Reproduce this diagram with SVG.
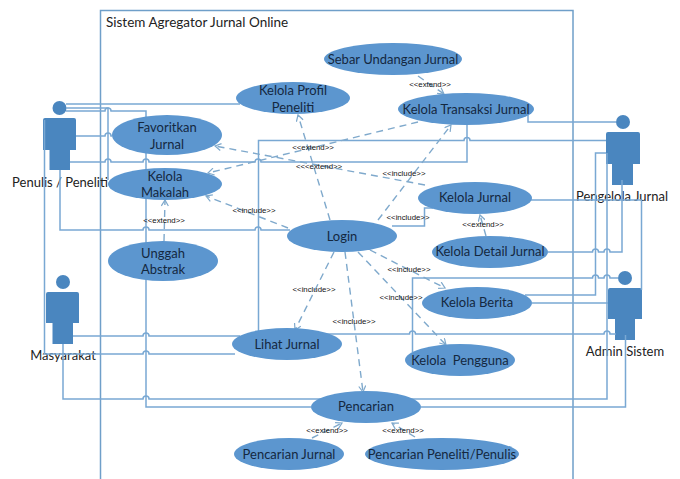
<svg xmlns="http://www.w3.org/2000/svg" width="680" height="479" viewBox="0 0 680 479">
<style>
text{font-family:"Lato","Open Sans","Liberation Sans",sans-serif;text-anchor:middle}
.uc{fill:#5b96cf;filter:url(#glow)}
.ut{font-size:13px;fill:#14283f}
.at{font-size:13px;fill:#222}
.lb{font-size:7.800px;fill:#111;font-family:"Liberation Sans",sans-serif}
.s{fill:none;stroke:#79a8d3;stroke-width:1.5}
.d{fill:none;stroke:#7fa9cc;stroke-width:1.4;stroke-dasharray:7 5;marker-end:url(#op)}
.ac{fill:#4a86bf}
.sys{fill:#fff;stroke:#6f9fc9;stroke-width:1.5}
</style>
<defs>
<filter id="glow" x="-10%" y="-20%" width="120%" height="140%"><feGaussianBlur stdDeviation="0.6"/></filter>
<marker id="op" markerWidth="8" markerHeight="8" refX="7" refY="4" orient="auto" markerUnits="userSpaceOnUse"><path d="M1 0.5L7 4L1 7.5" fill="none" stroke="#7fa9cc" stroke-width="1.2"/></marker>
</defs>
<rect width="680" height="479" fill="#fff"/>
<rect class="sys" x="100.5" y="10.5" width="472.5" height="480"/>
<text x="106" y="27" style="font-size:13.500px;fill:#222;text-anchor:start">Sistem Agregator Jurnal Online</text>
<g id="actor-penulis"><circle class="ac" cx="59.500" cy="108" r="7"/><path class="ac" d="M45 118H74Q76 118 76 120V150H70V170H49.500V150H43V120Q43 118 45 118Z"/><text class="at" x="60" y="187">Penulis / Peneliti</text></g>
<g id="actor-masyarakat"><circle class="ac" cx="63" cy="282" r="7"/><path class="ac" d="M48 292H77Q79 292 79 294V323H73V344H52.500V323H46V294Q46 292 48 292Z"/><text class="at" x="63" y="360">Masyarakat</text></g>
<g id="actor-pengelola"><circle class="ac" cx="623" cy="122" r="7"/><path class="ac" d="M608 132H638Q640 132 640 134V164H633V185H612V164H606V134Q606 132 608 132Z"/><text class="at" x="622" y="201">Pengelola Jurnal</text></g>
<g id="actor-admin"><circle class="ac" cx="625" cy="278" r="7"/><path class="ac" d="M610 288H640Q642 288 642 290V319H635V340H615V319H608V290Q608 288 610 288Z"/><text class="at" x="625" y="356">Admin Sistem</text></g>
<g id="connectors">
<path class="s" d="M66 104H240"/>
<path class="s" d="M66 108H108V180"/>
<path class="s" d="M66 111H105a3 3 0 0 1 6 0H146V407H311"/>
<path class="s" d="M76 136H105a3 3 0 0 1 6 0H112"/>
<path class="s" d="M70 162H105a3 3 0 0 1 6 0H143a3 3 0 0 1 6 0H255a3 3 0 0 1 6 0H467V125"/>
<path class="s" d="M60 170V230H143a3 3 0 0 1 6 0H255a3 3 0 0 1 6 0H290"/>
<path class="s" d="M44.500 120V354H143a3 3 0 0 1 6 0H235"/>
<path class="s" d="M73 336H143a3 3 0 0 1 6 0H240"/>
<path class="s" d="M63 344V399H143a3 3 0 0 1 6 0H607V153"/>
<path class="s" d="M421 407H625.500V335"/>
<path class="s" d="M616 122H528V115"/>
<path class="s" d="M606 140.500H470a3 3 0 0 0-6 0H258.500V332"/>
<path class="s" d="M606 153H595.500V295H525"/>
<path class="s" d="M531 200H641.500V290"/>
<path class="s" d="M548 252H592.500a3 3 0 0 1 6 0H604a3 3 0 0 1 6 0H622V180"/>
<path class="s" d="M618 278H610a3 3 0 0 0-6 0H598.500a3 3 0 0 0-6 0H412.500V352"/>
<path class="s" d="M532 303H608"/>
<path class="s" d="M325 334H409.500a3 3 0 0 1 6 0H604a3 3 0 0 1 6 0H616"/>
<path class="s" d="M392 226H424.500V208L433 208"/>
<path class="d" d="M425 185L215 146"/>
<path class="d" d="M418 122L208 173"/>
<path class="d" d="M288 228L206 196"/>
<path class="d" d="M330 220L298 115"/>
<path class="d" d="M378 220L451 125"/>
<path class="d" d="M370 250L445 288"/>
<path class="d" d="M358 252L446 345"/>
<path class="d" d="M334 252L295 330"/>
<path class="d" d="M345 252L363 392"/>
<path class="d" d="M418 76L444 94"/>
<path class="d" d="M486 236L480 215"/>
<path class="d" d="M164 241L165 200"/>
<path class="d" d="M312 438L342 423"/>
<path class="d" d="M415 437L392 423"/>
</g>
<g id="uc-sebar"><ellipse class="uc" cx="393" cy="59" rx="69" ry="16"/><text class="ut" x="393" y="64">Sebar Undangan Jurnal</text></g>
<g id="uc-profil"><ellipse class="uc" cx="293" cy="98" rx="57" ry="16"/><text class="ut" x="293" y="95">Kelola Profil</text><text class="ut" x="293" y="112">Peneliti</text></g>
<g id="uc-transaksi"><ellipse class="uc" cx="466" cy="109" rx="68" ry="16"/><text class="ut" x="466" y="114">Kelola Transaksi Jurnal</text></g>
<g id="uc-favorit"><ellipse class="uc" cx="167" cy="135" rx="55" ry="20"/><text class="ut" x="167" y="132">Favoritkan</text><text class="ut" x="167" y="149">Jurnal</text></g>
<g id="uc-makalah"><ellipse class="uc" cx="165" cy="184" rx="57" ry="16"/><text class="ut" x="165" y="181">Kelola</text><text class="ut" x="165" y="197">Makalah</text></g>
<g id="uc-unggah"><ellipse class="uc" cx="163" cy="261" rx="55" ry="20"/><text class="ut" x="163" y="258">Unggah</text><text class="ut" x="163" y="274">Abstrak</text></g>
<g id="uc-login"><ellipse class="uc" cx="342" cy="236" rx="55" ry="16"/><text class="ut" x="342" y="241">Login</text></g>
<g id="uc-jurnal"><ellipse class="uc" cx="475" cy="198" rx="57" ry="16"/><text class="ut" x="475" y="202">Kelola Jurnal</text></g>
<g id="uc-detail"><ellipse class="uc" cx="490" cy="252" rx="58" ry="16"/><text class="ut" x="490" y="256">Kelola Detail Jurnal</text></g>
<g id="uc-berita"><ellipse class="uc" cx="477" cy="303" rx="55" ry="16"/><text class="ut" x="477" y="307">Kelola Berita</text></g>
<g id="uc-pengguna"><ellipse class="uc" cx="460" cy="360" rx="55" ry="16"/><text class="ut" x="460" y="365" xml:space="preserve">Kelola  Pengguna</text></g>
<g id="uc-lihat"><ellipse class="uc" cx="287" cy="344" rx="55" ry="16"/><text class="ut" x="287" y="349">Lihat Jurnal</text></g>
<g id="uc-pencarian"><ellipse class="uc" cx="366" cy="407" rx="55" ry="16"/><text class="ut" x="366" y="411">Pencarian</text></g>
<g id="uc-pjurnal"><ellipse class="uc" cx="289" cy="454" rx="55" ry="16"/><text class="ut" x="289" y="459">Pencarian Jurnal</text></g>
<g id="uc-ppeneliti"><ellipse class="uc" cx="442" cy="454" rx="77" ry="16"/><text class="ut" x="442" y="459">Pencarian Peneliti/Penulis</text></g>
<g id="labels">
<text class="lb" x="313" y="150">&lt;&lt;extend&gt;&gt;</text>
<text class="lb" x="319" y="169">&lt;&lt;&lt;extend&gt;&gt;</text>
<text class="lb" x="404" y="176">&lt;&lt;include&gt;&gt;</text>
<text class="lb" x="430" y="87">&lt;&lt;extend&gt;&gt;</text>
<text class="lb" x="483" y="227">&lt;&lt;extend&gt;&gt;</text>
<text class="lb" x="164" y="223">&lt;&lt;extend&gt;&gt;</text>
<text class="lb" x="254" y="213">&lt;&lt;include&gt;&gt;</text>
<text class="lb" x="408" y="220">&lt;&lt;include&gt;&gt;</text>
<text class="lb" x="409" y="272">&lt;&lt;include&gt;&gt;</text>
<text class="lb" x="401" y="300">&lt;&lt;include&gt;&gt;</text>
<text class="lb" x="314" y="292">&lt;&lt;include&gt;&gt;</text>
<text class="lb" x="354" y="324">&lt;&lt;include&gt;&gt;</text>
<text class="lb" x="327" y="433">&lt;&lt;extend&gt;&gt;</text>
<text class="lb" x="403" y="433">&lt;&lt;extend&gt;&gt;</text>
</g>
</svg>
